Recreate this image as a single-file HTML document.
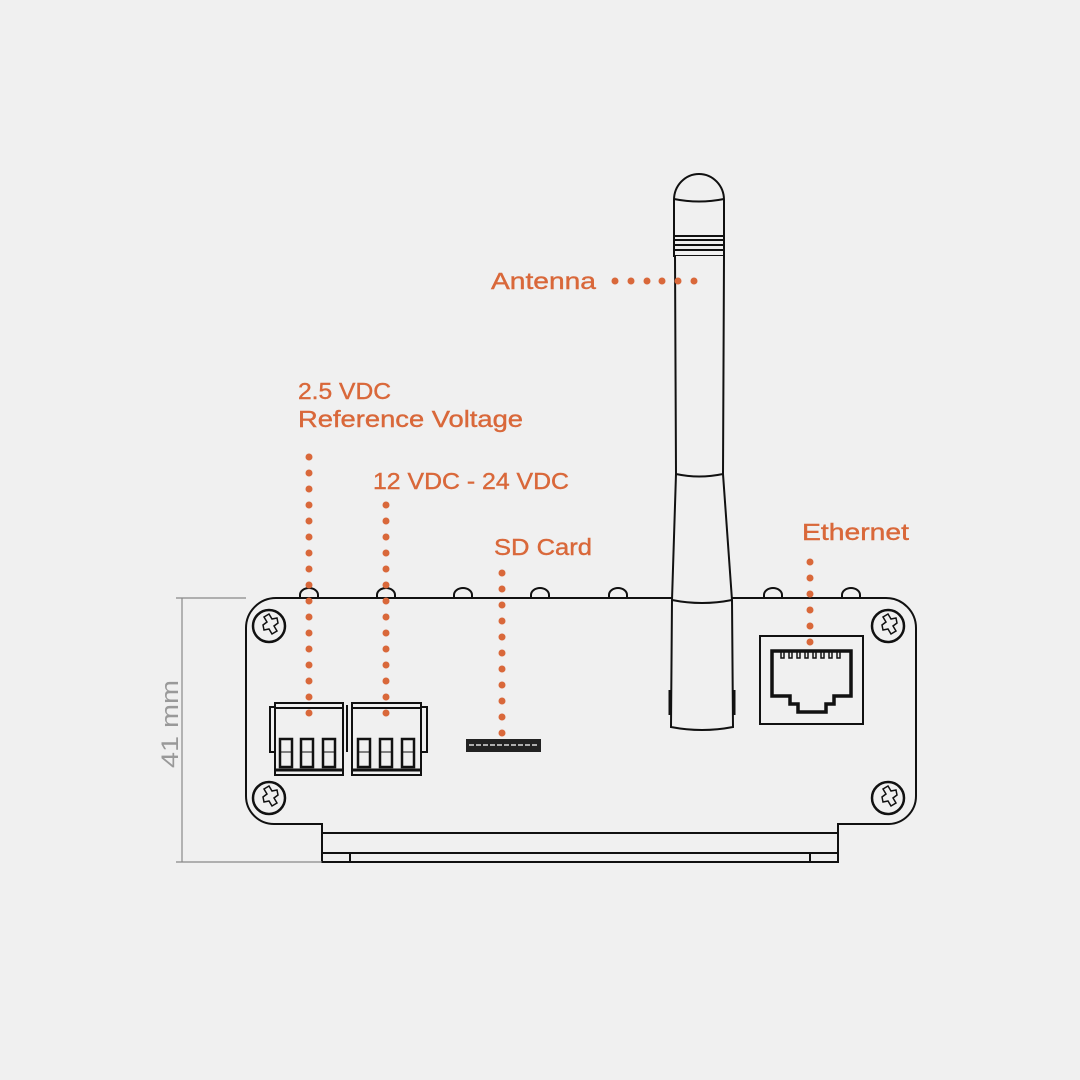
<!DOCTYPE html>
<html><head><meta charset="utf-8"><style>
html,body{margin:0;padding:0;background:#f0f0f0;}
svg{display:block}
text{font-family:"Liberation Sans",sans-serif;fill:#d9683a;font-size:23px;stroke:#d9683a;stroke-width:0.4}
</style></head><body>
<svg width="1080" height="1080" viewBox="0 0 1080 1080" xmlns="http://www.w3.org/2000/svg">
<rect width="1080" height="1080" fill="#f0f0f0"/>
<g fill="none" stroke="#111" stroke-width="2">
<g fill="#f0f0f0">
<path d="M300 598 v-3 a9 7 0 0 1 18 0 v3"/>
<path d="M377 598 v-3 a9 7 0 0 1 18 0 v3"/>
<path d="M454 598 v-3 a9 7 0 0 1 18 0 v3"/>
<path d="M531 598 v-3 a9 7 0 0 1 18 0 v3"/>
<path d="M609 598 v-3 a9 7 0 0 1 18 0 v3"/>
<path d="M764 598 v-3 a9 7 0 0 1 18 0 v3"/>
<path d="M842 598 v-3 a9 7 0 0 1 18 0 v3"/>
</g>
<path d="M276 598 H886 A30 30 0 0 1 916 628 V796 A28 28 0 0 1 888 824 H838 V862 H322 V824 H274 A28 28 0 0 1 246 796 V628 A30 30 0 0 1 276 598 Z" fill="#f0f0f0"/>
<line x1="322" y1="833" x2="838" y2="833"/>
<line x1="322" y1="853" x2="838" y2="853"/>
<line x1="350" y1="853" x2="350" y2="862"/>
<line x1="810" y1="853" x2="810" y2="862"/>
<g stroke-width="2.5">
<circle cx="269" cy="626" r="16"/><circle cx="888" cy="626" r="16"/>
<circle cx="269" cy="798" r="16"/><circle cx="888" cy="798" r="16"/>
</g>
<g stroke-width="1.5">
<path d="M264 617 l5 -3 l3 5 l5 -1 l1 5 l-4 3 l3 5 l-5 3 l-3 -5 l-5 1 l-1 -5 l4 -3 z"/>
<path d="M883 617 l5 -3 l3 5 l5 -1 l1 5 l-4 3 l3 5 l-5 3 l-3 -5 l-5 1 l-1 -5 l4 -3 z"/>
<path d="M264 789 l5 -3 l3 5 l5 -1 l1 5 l-4 3 l3 5 l-5 3 l-3 -5 l-5 1 l-1 -5 l4 -3 z"/>
<path d="M883 789 l5 -3 l3 5 l5 -1 l1 5 l-4 3 l3 5 l-5 3 l-3 -5 l-5 1 l-1 -5 l4 -3 z"/>
</g>
<path d="M674 200 A25 26 0 0 1 724 200 V236 H674 Z" fill="#f0f0f0"/>
<path d="M674 199 Q699 204 724 199"/>
<path d="M674 236 H724 V256 H674 Z" fill="#f0f0f0"/>
<line x1="674" y1="240" x2="724" y2="240"/><line x1="674" y1="245" x2="724" y2="245"/><line x1="674" y1="250" x2="724" y2="250"/>
<path d="M676 474 L672 600 L671 727 Q702 733 733 727 L732 600 L723 474 Z" fill="#f0f0f0"/>
<path d="M675 256 L676 474 Q699 479 723 474 L724 256" fill="#f0f0f0"/>
<path d="M672 600 Q702 606 732 600"/>
<path d="M670 690 v25 M734 690 v25" stroke-width="3"/>
<g fill="#f0f0f0">
<rect x="270" y="707" width="6" height="45"/>
<rect x="421" y="707" width="6" height="45"/>
<rect x="275" y="703" width="68" height="72"/>
<rect x="352" y="703" width="69" height="72"/>
</g>
<line x1="275" y1="708" x2="343" y2="708"/><line x1="352" y1="708" x2="421" y2="708"/>
<line x1="275" y1="770" x2="343" y2="770" stroke-width="3"/><line x1="352" y1="770" x2="421" y2="770" stroke-width="3"/>
<line x1="347" y1="705" x2="347" y2="752"/>
<g stroke-width="2.5">
<rect x="280" y="739" width="12" height="28"/><rect x="301" y="739" width="12" height="28"/><rect x="323" y="739" width="12" height="28"/>
<rect x="358" y="739" width="12" height="28"/><rect x="380" y="739" width="12" height="28"/><rect x="402" y="739" width="12" height="28"/>
</g>
<g stroke-width="1"><line x1="280" y1="752" x2="292" y2="752"/><line x1="301" y1="752" x2="313" y2="752"/><line x1="323" y1="752" x2="335" y2="752"/><line x1="358" y1="752" x2="370" y2="752"/><line x1="380" y1="752" x2="392" y2="752"/><line x1="402" y1="752" x2="414" y2="752"/></g>
<rect x="466" y="739" width="75" height="13" fill="#222" stroke="none"/>
<line x1="469" y1="745" x2="538" y2="745" stroke="#ddd" stroke-width="1.5" stroke-dasharray="5 2"/>
<rect x="760" y="636" width="103" height="88"/>
<path d="M772 651 H851 V696 H834 V704 H826 V712 H798 V704 H790 V696 H772 Z" stroke-width="3.5"/>
<path d="M781 652 v6 h3 v-6 M789 652 v6 h3 v-6 M797 652 v6 h3 v-6 M805 652 v6 h3 v-6 M813 652 v6 h3 v-6 M821 652 v6 h3 v-6 M829 652 v6 h3 v-6 M837 652 v6 h3 v-6" stroke-width="1.5"/>
</g>
<g stroke="#888" stroke-width="1.2">
<line x1="176" y1="598" x2="246" y2="598"/>
<line x1="176" y1="862" x2="322" y2="862"/>
<line x1="182" y1="598" x2="182" y2="862"/>
</g>
<text x="0" y="0" transform="translate(178 768) rotate(-90)" style="fill:#999;stroke:none;font-size:24px" textLength="88" lengthAdjust="spacingAndGlyphs">41 mm</text>
<g fill="#d9683a">
<circle cx="615" cy="281" r="3.5"/><circle cx="631" cy="281" r="3.5"/><circle cx="647" cy="281" r="3.5"/><circle cx="662" cy="281" r="3.5"/><circle cx="678" cy="281" r="3.5"/><circle cx="694" cy="281" r="3.5"/>
<circle cx="309" cy="457" r="3.5"/><circle cx="309" cy="473" r="3.5"/><circle cx="309" cy="489" r="3.5"/><circle cx="309" cy="505" r="3.5"/><circle cx="309" cy="521" r="3.5"/><circle cx="309" cy="537" r="3.5"/><circle cx="309" cy="553" r="3.5"/><circle cx="309" cy="569" r="3.5"/><circle cx="309" cy="585" r="3.5"/><circle cx="309" cy="601" r="3.5"/><circle cx="309" cy="617" r="3.5"/><circle cx="309" cy="633" r="3.5"/><circle cx="309" cy="649" r="3.5"/><circle cx="309" cy="665" r="3.5"/><circle cx="309" cy="681" r="3.5"/><circle cx="309" cy="697" r="3.5"/><circle cx="309" cy="713" r="3.5"/>
<circle cx="386" cy="505" r="3.5"/><circle cx="386" cy="521" r="3.5"/><circle cx="386" cy="537" r="3.5"/><circle cx="386" cy="553" r="3.5"/><circle cx="386" cy="569" r="3.5"/><circle cx="386" cy="585" r="3.5"/><circle cx="386" cy="601" r="3.5"/><circle cx="386" cy="617" r="3.5"/><circle cx="386" cy="633" r="3.5"/><circle cx="386" cy="649" r="3.5"/><circle cx="386" cy="665" r="3.5"/><circle cx="386" cy="681" r="3.5"/><circle cx="386" cy="697" r="3.5"/><circle cx="386" cy="713" r="3.5"/>
<circle cx="502" cy="573" r="3.5"/><circle cx="502" cy="589" r="3.5"/><circle cx="502" cy="605" r="3.5"/><circle cx="502" cy="621" r="3.5"/><circle cx="502" cy="637" r="3.5"/><circle cx="502" cy="653" r="3.5"/><circle cx="502" cy="669" r="3.5"/><circle cx="502" cy="685" r="3.5"/><circle cx="502" cy="701" r="3.5"/><circle cx="502" cy="717" r="3.5"/><circle cx="502" cy="733" r="3.5"/>
<circle cx="810" cy="562" r="3.5"/><circle cx="810" cy="578" r="3.5"/><circle cx="810" cy="594" r="3.5"/><circle cx="810" cy="610" r="3.5"/><circle cx="810" cy="626" r="3.5"/><circle cx="810" cy="642" r="3.5"/>
</g>
<text x="491" y="289" textLength="105" lengthAdjust="spacingAndGlyphs">Antenna</text>
<text x="298" y="399" textLength="93" lengthAdjust="spacingAndGlyphs">2.5 VDC</text>
<text x="298" y="427" textLength="225" lengthAdjust="spacingAndGlyphs">Reference Voltage</text>
<text x="373" y="489" textLength="196" lengthAdjust="spacingAndGlyphs">12 VDC - 24 VDC</text>
<text x="494" y="555" textLength="98" lengthAdjust="spacingAndGlyphs">SD Card</text>
<text x="802" y="540" textLength="107" lengthAdjust="spacingAndGlyphs">Ethernet</text>
</svg>
</body></html>
